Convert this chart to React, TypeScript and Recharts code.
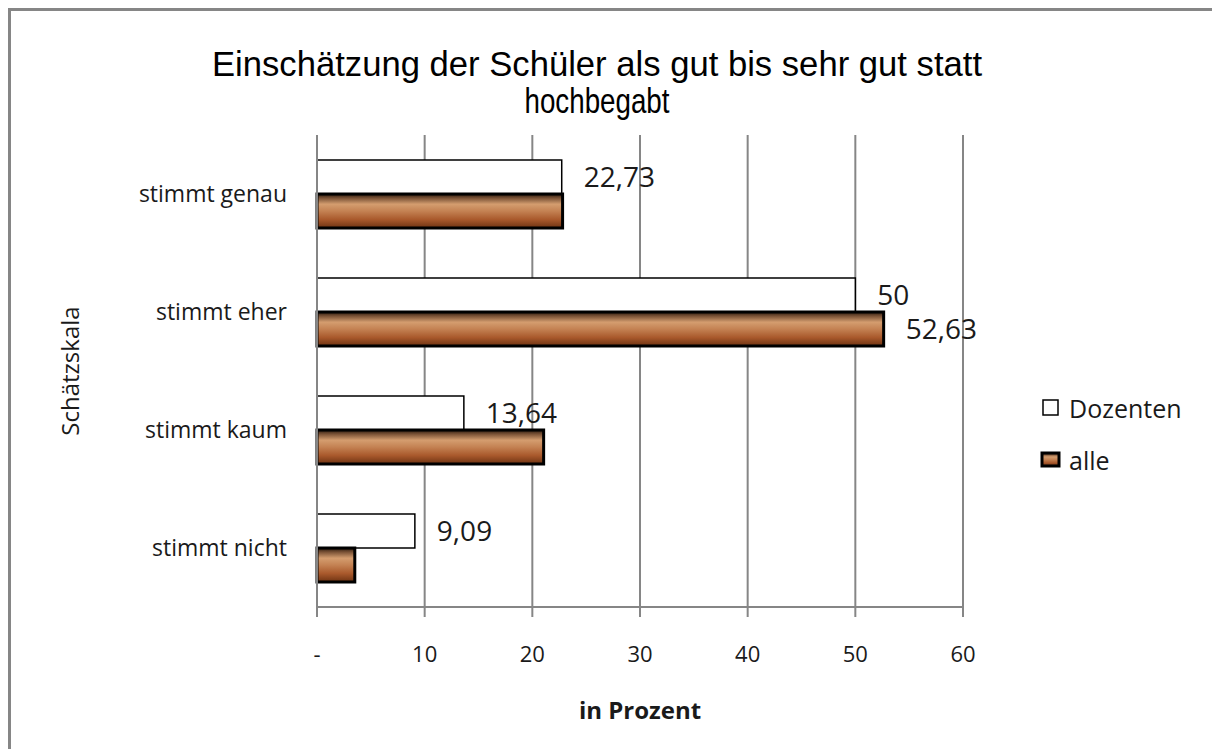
import { BarChart, Bar, XAxis, YAxis, CartesianGrid, LabelList } from 'recharts';

const categories = ['stimmt genau', 'stimmt eher', 'stimmt kaum', 'stimmt nicht'];
const dozenten = [22.73, 50, 13.64, 9.09];
const alle = [22.81, 52.63, 21.05, 3.51];
const alleLabels = ['', '52,63', '', ''];
const xTicks = [0, 10, 20, 30, 40, 50, 60];

const data = categories.map((name, i) => ({
  name,
  Dozenten: dozenten[i],
  alle: alle[i],
  alleLabel: alleLabels[i],
}));

const GRID = '#868686';
const TEXT = '#1a1a1a';
const FONT = '"Open Sans", sans-serif';

const fmt = (v: number) => (v === 0 ? '-' : String(v).replace('.', ','));

function BrownGradient({ id }: { id: string }) {
  return (
    <linearGradient id={id} x1="0" y1="0" x2="0" y2="1">
      <stop offset="0" stopColor="#2b1a0e" />
      <stop offset="0.12" stopColor="#7a5236" />
      <stop offset="0.3" stopColor="#d49d6f" />
      <stop offset="0.5" stopColor="#c48253" />
      <stop offset="0.75" stopColor="#a9592c" />
      <stop offset="1" stopColor="#6e3312" />
    </linearGradient>
  );
}

export default function App() {
  return (
    <div
      style={{
        position: 'relative',
        width: 1209,
        height: 738,
        borderLeft: `3px solid ${GRID}`,
        borderTop: `3px solid ${GRID}`,
        background: '#fff',
        fontFamily: FONT,
      }}
    >
      <svg width={1209} height={120} style={{ position: 'absolute', left: 0, top: 0 }}>
        <text
          x={586}
          y={65}
          textAnchor="middle"
          fontFamily='"Liberation Sans", Arial, sans-serif'
          fontSize={35}
          fill="#000"
          textLength={770}
          lengthAdjust="spacingAndGlyphs"
        >
          Einschätzung der Schüler als gut bis sehr gut statt
        </text>
        <text
          x={586}
          y={102}
          textAnchor="middle"
          fontFamily='"Liberation Sans", Arial, sans-serif'
          fontSize={35}
          fill="#000"
          textLength={145}
          lengthAdjust="spacingAndGlyphs"
        >
          hochbegabt
        </text>
      </svg>

      <BarChart
        width={1209}
        height={738}
        data={data}
        layout="vertical"
        margin={{ top: 124, right: 257, left: 0, bottom: 82 }}
        barGap={0}
        barSize={34}
      >
        <defs>
          <BrownGradient id="brown" />
        </defs>
        <CartesianGrid horizontal={false} stroke={GRID} strokeWidth={2} />
        <XAxis
          type="number"
          domain={[0, 60]}
          ticks={xTicks}
          height={60}
          tickFormatter={fmt}
          stroke={GRID}
          strokeWidth={2}
          tickSize={10}
          tickMargin={29}
          tick={{ fill: TEXT, fontSize: 22, fontFamily: FONT }}
        />
        <YAxis
          type="category"
          dataKey="name"
          width={306}
          tickLine={false}
          tickSize={0}
          tickMargin={30}
          stroke={GRID}
          strokeWidth={2}
          tick={{ fill: TEXT, fontSize: 23, fontFamily: FONT }}
        />
        <Bar dataKey="Dozenten" fill="#ffffff" stroke="#000" strokeWidth={1.5} isAnimationActive={false}>
          <LabelList
            dataKey="Dozenten"
            position="right"
            offset={22}
            formatter={(v: any) => fmt(Number(v))}
            style={{ fill: TEXT, fontSize: 28, fontFamily: FONT }}
          />
        </Bar>
        <Bar dataKey="alle" fill="url(#brown)" stroke="#000" strokeWidth={3} isAnimationActive={false}>
          <LabelList
            dataKey="alleLabel"
            position="right"
            offset={22}
            style={{ fill: TEXT, fontSize: 28, fontFamily: FONT }}
          />
        </Bar>
      </BarChart>

      <svg width={60} height={200} style={{ position: 'absolute', left: 30, top: 260 }}>
        <text
          x={0}
          y={0}
          transform="translate(38 100) rotate(-90)"
          textAnchor="middle"
          fontFamily={FONT}
          fontSize={24}
          fill={TEXT}
        >
          Schätzskala
        </text>
      </svg>

      <div
        style={{
          position: 'absolute',
          left: 429,
          width: 400,
          top: 683,
          textAlign: 'center',
          fontWeight: 700,
          fontSize: 24,
          color: TEXT,
          lineHeight: '32px',
        }}
      >
        in Prozent
      </div>

      <svg width={180} height={90} style={{ position: 'absolute', left: 1025, top: 380 }}>
        <defs>
          <BrownGradient id="brownLegend" />
        </defs>
        <rect x={7} y={9} width={15} height={15} fill="#fff" stroke="#000" strokeWidth={1.5} />
        <text x={33} y={17} dominantBaseline="central" fontFamily={FONT} fontSize={25} fill={TEXT}>
          Dozenten
        </text>
        <rect x={6} y={62} width={17} height={13} fill="url(#brownLegend)" stroke="#000" strokeWidth={3} />
        <text x={33} y={69} dominantBaseline="central" fontFamily={FONT} fontSize={25} fill={TEXT}>
          alle
        </text>
      </svg>
    </div>
  );
}
